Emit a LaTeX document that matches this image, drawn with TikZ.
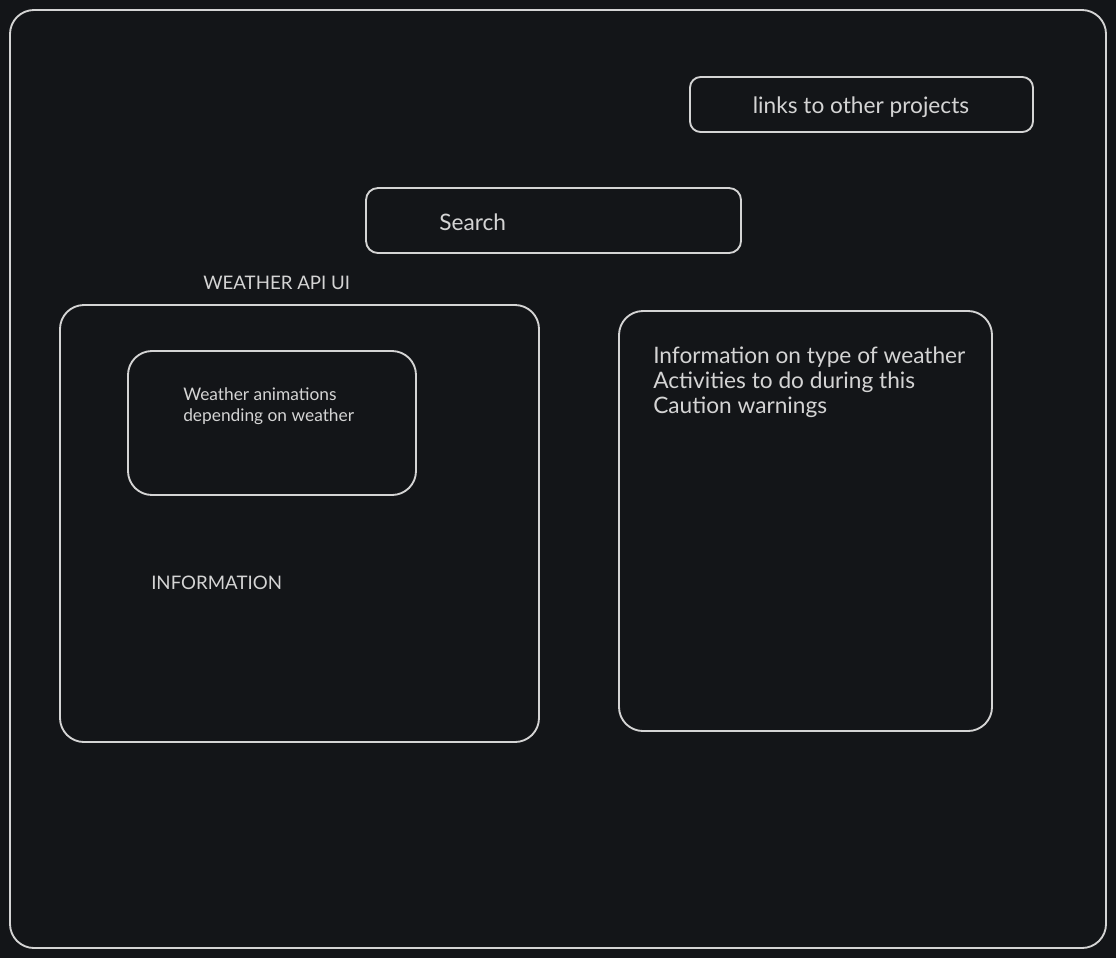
\documentclass[tikz,border=0pt]{standalone}
\usepackage{fontspec}
\setmainfont{Lato}
\usepackage{xcolor}
\definecolor{canvas}{HTML}{131518}
\definecolor{chalk}{HTML}{D4D4D4}

\tikzset{
  panel/.style={draw=chalk, line width=1.4pt, rounded corners=#1, inner sep=0pt},
  panel/.default=18pt,
  label/.style={text=chalk, inner sep=0pt, font=\fontsize{14}{16}\selectfont},
  note/.style={text=chalk, inner sep=0pt, align=left, font=\fontsize{17}{18.75}\selectfont}
}

\begin{document}
\begin{tikzpicture}[x=0.75pt,y=-0.75pt]
  \fill[canvas] (0,0) rectangle (1116,958);
  \useasboundingbox (0,0) rectangle (1116,958);

  \node[panel] (page) at (558,479) [minimum width=1096*0.75pt, minimum height=938*0.75pt] {};

  \node[panel=8pt] (links) at (861.5,104.5) [minimum width=343*0.75pt, minimum height=55*0.75pt] {};
  \node[note] (linkstext) at (861,107) {links to other projects};

  \node[panel=9pt] (search) at (553.5,220.5) [minimum width=375*0.75pt, minimum height=65*0.75pt] {};
  \node[note, anchor=west] (searchtext) at (439,222) {Search};

  \node[label, anchor=west] (title) at (203,283) {WEATHER API UI};

  \node[panel] (weather) at (299.5,523.5) [minimum width=479*0.75pt, minimum height=437*0.75pt] {};
  \node[panel] (anim) at (272,423) [minimum width=288*0.75pt, minimum height=144*0.75pt] {};
  \node[label, anchor=north west, align=left, font=\fontsize{13}{15.75}\selectfont] (animtext) at (183,387) {Weather animations\\depending on weather};
  \node[label, anchor=west] (info) at (151,583) {INFORMATION};

  \node[panel] (details) at (805.5,521) [minimum width=373*0.75pt, minimum height=420*0.75pt] {};
  \node[note, anchor=north west] (detailtext) at (653,347) {Information on type of weather\\Activities to do during this\\Caution warnings};
\end{tikzpicture}
\end{document}
